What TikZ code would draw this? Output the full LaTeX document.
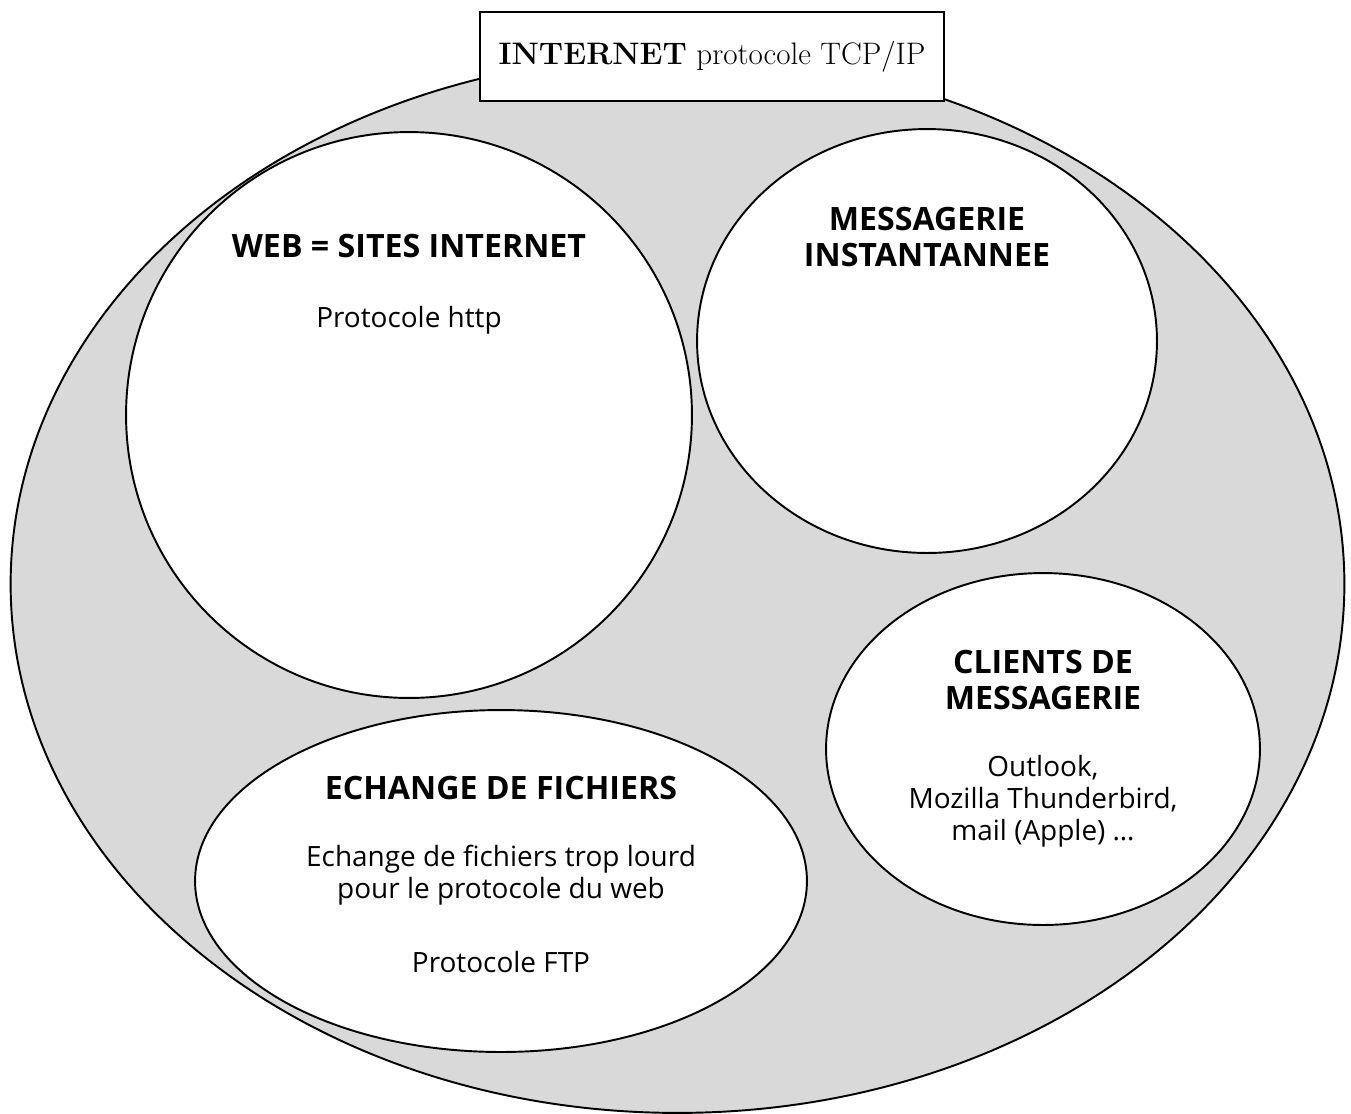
\documentclass[tikz,border=0pt]{standalone}
\usepackage{fontspec}
\newfontfamily\labelfont{Open Sans}
\usetikzlibrary{shapes.geometric}

\tikzset{
	bulle/.style={ellipse, draw, line width=1.1pt, fill=white, inner sep=0pt},
	titre/.style={font=\labelfont\bfseries\fontsize{18.3}{21}\selectfont, align=center},
	corps/.style={font=\labelfont\fontsize{15.9}{18.2}\selectfont, align=center}
}

\begin{document}
\begin{tikzpicture}[x=0.02cm, y=-0.02cm]
			\useasboundingbox (0, 0) rectangle (1351, 1113);

			% internet
			\node[bulle, fill=black!15, minimum width=26.68cm, minimum height=21.16cm] (internet) at (677.5, 584) {};
			\node[draw, line width=1.1pt, fill=white, minimum width=9.28cm, minimum height=1.78cm, inner sep=0pt,
				font=\fontsize{17.7}{21}\selectfont] (entete) at (712, 56.5) {\textbf{INTERNET} protocole TCP/IP};

			% web
			\node[bulle, minimum width=11.32cm, minimum height=11.32cm] (web) at (409, 415) {};
			\node[titre] (webtitre) at (409, 246) {WEB = SITES INTERNET};
			\node[corps] (webcorps) at (409, 320) {Protocole http};

			% messagerie instantannee
			\node[bulle, minimum width=9.2cm, minimum height=8.48cm] (msg) at (927, 341) {};
			\node[titre] (msgtitre) at (927, 237) {MESSAGERIE\\INSTANTANNEE};

			% clients
			\node[bulle, minimum width=8.68cm, minimum height=7.04cm] (clients) at (1043, 749) {};
			\node[titre] (clientstitre) at (1043, 680) {CLIENTS DE\\MESSAGERIE};
			\node[corps] (clientscorps) at (1043, 801) {Outlook,\\Mozilla Thunderbird,\\mail (Apple) \dots};

			% echange
			\node[bulle, minimum width=12.24cm, minimum height=6.84cm] (ftp) at (501, 881) {};
			\node[titre] (ftptitre) at (501, 788) {ECHANGE DE FICHIERS};
			\node[corps] (ftpcorps) at (501, 875) {Echange de fichiers trop lourd\\pour le protocole du web};
			\node[corps] (ftpproto) at (501, 962) {Protocole FTP};

		\end{tikzpicture}
\end{document}
